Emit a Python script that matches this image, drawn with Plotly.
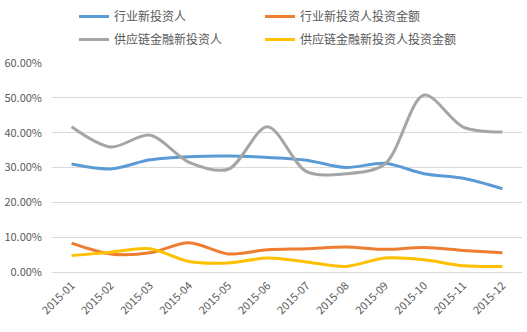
import plotly.graph_objects as go

months = ["2015-01", "2015-02", "2015-03", "2015-04", "2015-05", "2015-06",
          "2015-07", "2015-08", "2015-09", "2015-10", "2015-11", "2015-12"]
industry_new = [0.310, 0.296, 0.322, 0.331, 0.333, 0.329, 0.321, 0.300, 0.312, 0.282, 0.269, 0.239]
industry_amt = [0.083, 0.052, 0.055, 0.084, 0.052, 0.064, 0.067, 0.072, 0.065, 0.070, 0.062, 0.055]
scf_new = [0.417, 0.359, 0.393, 0.315, 0.295, 0.417, 0.288, 0.282, 0.310, 0.508, 0.416, 0.402]
scf_amt = [0.047, 0.057, 0.067, 0.030, 0.026, 0.040, 0.029, 0.016, 0.040, 0.035, 0.018, 0.016]

names = ["行业新投资人", "行业新投资人投资金额", "供应链金融新投资人", "供应链金融新投资人投资金额"]
colors = ["#5B9BD5", "#ED7D31", "#A5A5A5", "#FFC000"]
series = [industry_new, industry_amt, scf_new, scf_amt]
legend_ids = ["legend", "legend2", "legend", "legend2"]

fig = go.Figure()
for i, (n, c, s, lg) in enumerate(zip(names, colors, series, legend_ids)):
    fig.add_trace(go.Scatter(x=months, y=s, name=n, mode="lines", legend=lg,
                             legendgroup=f"g{i}",
                             line=dict(color=c, width=3, shape="spline", smoothing=0.9)))

font_family = "Noto Sans CJK SC, Liberation Sans, sans-serif"
leg_common = dict(orientation="v", yanchor="top", y=1 - 2 / 332, yref="container",
                  xref="container", xanchor="left", tracegroupgap=4,
                  font=dict(size=12, color="#595959"), bgcolor="rgba(0,0,0,0)")
fig.update_layout(
    width=527, height=332,
    margin=dict(l=52, r=5, t=63, b=60, autoexpand=False),
    plot_bgcolor="white", paper_bgcolor="white",
    font=dict(family=font_family, size=11, color="#595959"),
    legend=dict(x=74 / 527, **leg_common),
    legend2=dict(x=260 / 527, **leg_common),
    showlegend=True,
)
fig.update_xaxes(type="category", range=[-0.5, 11.5], tickangle=-45, showgrid=False,
                 showline=False, ticks="", ticklabelstandoff=4,
                 tickfont=dict(size=11, color="#595959"))
fig.update_yaxes(range=[0, 0.6], dtick=0.1, tickformat=".2%", showgrid=True,
                 gridcolor="#D9D9D9", gridwidth=1, zeroline=True, zerolinecolor="#D9D9D9",
                 zerolinewidth=1, showline=False, ticks="", ticklabelstandoff=9,
                 tickfont=dict(size=11, color="#595959"))

fig.write_html("out.html")
